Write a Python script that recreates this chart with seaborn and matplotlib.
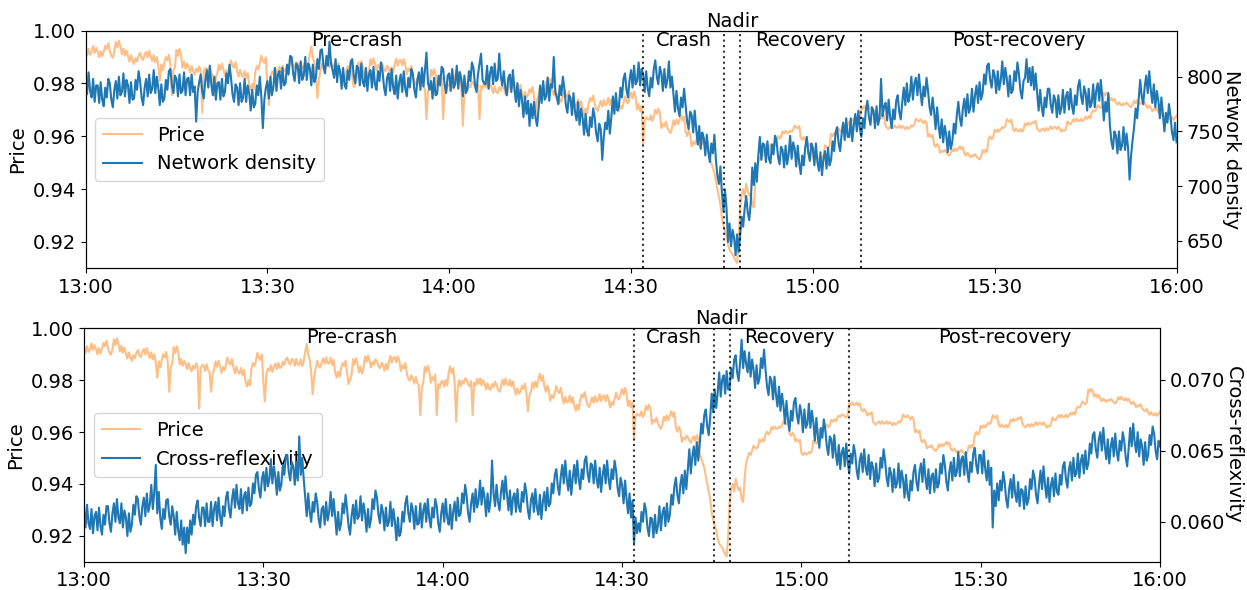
import matplotlib
matplotlib.use("Agg")
import matplotlib.pyplot as plt
import numpy as np
import pandas as pd
import seaborn as sns

# ---------------- data (15-second samples, 13:00 -> 16:00, 4 per row-minute) ----------------
times = pd.date_range("2021-01-01 13:00:00", "2021-01-01 16:00:00", freq="15s")

price = [
    0.9927, 0.9905, 0.9931, 0.9909, 0.9920, 0.9942, 0.9915, 0.9935, 0.9920, 0.9899, 0.9923, 0.9903,
    0.9921, 0.9943, 0.9931, 0.9952, 0.9925, 0.9905, 0.9898, 0.9919, 0.9958, 0.9936, 0.9962, 0.9940,
    0.9910, 0.9932, 0.9905, 0.9925, 0.9904, 0.9883, 0.9907, 0.9887, 0.9874, 0.9896, 0.9884, 0.9905,
    0.9916, 0.9896, 0.9889, 0.9910, 0.9920, 0.9898, 0.9924, 0.9902, 0.9885, 0.9907, 0.9880, 0.9900,
    0.9866, 0.9810, 0.9872, 0.9850, 0.9878, 0.9900, 0.9888, 0.9909, 0.9870, 0.9755, 0.9850, 0.9862,
    0.9927, 0.9905, 0.9931, 0.9909, 0.9860, 0.9882, 0.9855, 0.9875, 0.9863, 0.9842, 0.9866, 0.9846,
    0.9834, 0.9856, 0.9844, 0.9865, 0.9850, 0.9690, 0.9845, 0.9858, 0.9857, 0.9835, 0.9861, 0.9839,
    0.9830, 0.9755, 0.9822, 0.9840, 0.9872, 0.9851, 0.9875, 0.9855, 0.9828, 0.9850, 0.9838, 0.9859,
    0.9887, 0.9867, 0.9860, 0.9881, 0.9848, 0.9826, 0.9852, 0.9830, 0.9825, 0.9847, 0.9820, 0.9840,
    0.9796, 0.9775, 0.9799, 0.9779, 0.9844, 0.9866, 0.9854, 0.9875, 0.9905, 0.9885, 0.9878, 0.9899,
    0.9790, 0.9718, 0.9820, 0.9845, 0.9836, 0.9858, 0.9831, 0.9851, 0.9864, 0.9843, 0.9867, 0.9847,
    0.9849, 0.9871, 0.9859, 0.9880, 0.9887, 0.9867, 0.9860, 0.9881, 0.9878, 0.9856, 0.9882, 0.9860,
    0.9859, 0.9881, 0.9854, 0.9874, 0.9911, 0.9940, 0.9899, 0.9880, 0.9830, 0.9745, 0.9815, 0.9845,
    0.9875, 0.9855, 0.9848, 0.9869, 0.9884, 0.9862, 0.9888, 0.9866, 0.9864, 0.9886, 0.9859, 0.9879,
    0.9830, 0.9809, 0.9833, 0.9813, 0.9844, 0.9866, 0.9854, 0.9875, 0.9825, 0.9785, 0.9800, 0.9822,
    0.9881, 0.9859, 0.9885, 0.9863, 0.9830, 0.9852, 0.9825, 0.9845, 0.9892, 0.9871, 0.9895, 0.9875,
    0.9849, 0.9871, 0.9859, 0.9880, 0.9873, 0.9853, 0.9846, 0.9867, 0.9858, 0.9836, 0.9862, 0.9840,
    0.9872, 0.9894, 0.9867, 0.9887, 0.9889, 0.9868, 0.9892, 0.9872, 0.9835, 0.9857, 0.9845, 0.9866,
    0.9825, 0.9805, 0.9798, 0.9819, 0.9808, 0.9786, 0.9812, 0.9790, 0.9780, 0.9665, 0.9770, 0.9790,
    0.9852, 0.9831, 0.9855, 0.9835, 0.9790, 0.9812, 0.9800, 0.9821, 0.9665, 0.9785, 0.9770, 0.9795,
    0.9797, 0.9775, 0.9801, 0.9779, 0.9831, 0.9853, 0.9826, 0.9846, 0.9790, 0.9640, 0.9770, 0.9800,
    0.9776, 0.9798, 0.9786, 0.9807, 0.9803, 0.9783, 0.9776, 0.9797, 0.9665, 0.9790, 0.9780, 0.9805,
    0.9785, 0.9807, 0.9780, 0.9800, 0.9785, 0.9764, 0.9788, 0.9768, 0.9763, 0.9785, 0.9773, 0.9794,
    0.9782, 0.9762, 0.9755, 0.9776, 0.9802, 0.9780, 0.9806, 0.9784, 0.9780, 0.9802, 0.9775, 0.9795,
    0.9765, 0.9744, 0.9768, 0.9748, 0.9756, 0.9778, 0.9766, 0.9787, 0.9750, 0.9680, 0.9740, 0.9755,
    0.9791, 0.9769, 0.9795, 0.9773, 0.9802, 0.9824, 0.9797, 0.9817, 0.9776, 0.9755, 0.9779, 0.9759,
    0.9720, 0.9742, 0.9730, 0.9751, 0.9777, 0.9757, 0.9750, 0.9771, 0.9732, 0.9710, 0.9736, 0.9714,
    0.9718, 0.9740, 0.9713, 0.9733, 0.9703, 0.9682, 0.9706, 0.9686, 0.9723, 0.9745, 0.9733, 0.9754,
    0.9723, 0.9703, 0.9696, 0.9717, 0.9734, 0.9712, 0.9738, 0.9716, 0.9724, 0.9746, 0.9719, 0.9739,
    0.9740, 0.9719, 0.9743, 0.9723, 0.9694, 0.9716, 0.9704, 0.9725, 0.9752, 0.9732, 0.9725, 0.9746,
    0.9766, 0.9744, 0.9770, 0.9748, 0.9700, 0.9722, 0.9695, 0.9715, 0.9570, 0.9660, 0.9672, 0.9665,
    0.9662, 0.9680, 0.9658, 0.9674, 0.9701, 0.9685, 0.9705, 0.9689, 0.9631, 0.9647, 0.9639, 0.9655,
    0.9634, 0.9620, 0.9612, 0.9630, 0.9660, 0.9642, 0.9664, 0.9646, 0.9663, 0.9681, 0.9659, 0.9675,
    0.9617, 0.9601, 0.9621, 0.9605, 0.9562, 0.9578, 0.9570, 0.9586, 0.9580, 0.9566, 0.9558, 0.9576,
    0.9584, 0.9566, 0.9588, 0.9570, 0.9515, 0.9498, 0.9480, 0.9462, 0.9430, 0.9400, 0.9370, 0.9340,
    0.9290, 0.9262, 0.9240, 0.9222, 0.9190, 0.9170, 0.9160, 0.9155, 0.9140, 0.9128, 0.9120, 0.9200,
    0.9330, 0.9380, 0.9400, 0.9370, 0.9420, 0.9395, 0.9375, 0.9385, 0.9340, 0.9330, 0.9420, 0.9480,
    0.9500, 0.9520, 0.9512, 0.9528, 0.9547, 0.9540, 0.9536, 0.9545, 0.9571, 0.9562, 0.9573, 0.9564,
    0.9592, 0.9601, 0.9590, 0.9598, 0.9619, 0.9611, 0.9621, 0.9613, 0.9613, 0.9621, 0.9617, 0.9625,
    0.9641, 0.9634, 0.9630, 0.9639, 0.9595, 0.9586, 0.9597, 0.9588, 0.9564, 0.9573, 0.9562, 0.9570,
    0.9519, 0.9511, 0.9521, 0.9513, 0.9515, 0.9523, 0.9519, 0.9527, 0.9566, 0.9559, 0.9555, 0.9564,
    0.9610, 0.9601, 0.9612, 0.9603, 0.9620, 0.9629, 0.9618, 0.9626, 0.9647, 0.9639, 0.9649, 0.9641,
    0.9655, 0.9663, 0.9659, 0.9667, 0.9667, 0.9660, 0.9656, 0.9665, 0.9712, 0.9703, 0.9714, 0.9705,
    0.9705, 0.9714, 0.9703, 0.9711, 0.9687, 0.9679, 0.9689, 0.9681, 0.9664, 0.9672, 0.9668, 0.9676,
    0.9639, 0.9632, 0.9628, 0.9637, 0.9640, 0.9631, 0.9642, 0.9633, 0.9633, 0.9642, 0.9631, 0.9639,
    0.9634, 0.9626, 0.9636, 0.9628, 0.9633, 0.9641, 0.9637, 0.9645, 0.9667, 0.9660, 0.9656, 0.9665,
    0.9657, 0.9648, 0.9659, 0.9650, 0.9599, 0.9608, 0.9597, 0.9605, 0.9568, 0.9560, 0.9570, 0.9562,
    0.9537, 0.9545, 0.9541, 0.9549, 0.9538, 0.9531, 0.9527, 0.9536, 0.9552, 0.9543, 0.9554, 0.9545,
    0.9553, 0.9562, 0.9551, 0.9559, 0.9535, 0.9527, 0.9537, 0.9529, 0.9520, 0.9528, 0.9524, 0.9532,
    0.9523, 0.9516, 0.9512, 0.9521, 0.9548, 0.9539, 0.9550, 0.9541, 0.9591, 0.9600, 0.9589, 0.9597,
    0.9624, 0.9616, 0.9626, 0.9618, 0.9627, 0.9635, 0.9631, 0.9639, 0.9665, 0.9658, 0.9654, 0.9663,
    0.9628, 0.9619, 0.9630, 0.9621, 0.9619, 0.9628, 0.9617, 0.9625, 0.9649, 0.9641, 0.9651, 0.9643,
    0.9647, 0.9655, 0.9651, 0.9659, 0.9629, 0.9622, 0.9618, 0.9627, 0.9629, 0.9620, 0.9631, 0.9622,
    0.9629, 0.9638, 0.9627, 0.9635, 0.9635, 0.9627, 0.9637, 0.9629, 0.9617, 0.9625, 0.9621, 0.9629,
    0.9656, 0.9649, 0.9645, 0.9654, 0.9665, 0.9656, 0.9667, 0.9658, 0.9658, 0.9667, 0.9656, 0.9664,
    0.9674, 0.9666, 0.9676, 0.9668, 0.9690, 0.9698, 0.9694, 0.9702, 0.9718, 0.9711, 0.9707, 0.9716,
    0.9764, 0.9755, 0.9766, 0.9757, 0.9736, 0.9745, 0.9734, 0.9742, 0.9727, 0.9719, 0.9729, 0.9721,
    0.9716, 0.9724, 0.9720, 0.9728, 0.9721, 0.9714, 0.9710, 0.9719, 0.9734, 0.9725, 0.9736, 0.9727,
    0.9722, 0.9731, 0.9720, 0.9728, 0.9715, 0.9707, 0.9717, 0.9709, 0.9695, 0.9703, 0.9699, 0.9707,
    0.9691, 0.9684, 0.9680, 0.9689, 0.9675, 0.9666, 0.9677, 0.9668, 0.9664, 0.9673, 0.9662, 0.9670,
    0.9678,
]

network_density = [
    800, 784, 804, 787, 781, 798, 777, 792, 792, 776, 795, 779, 773, 790, 781, 798, 794, 779, 772, 788,
    796, 780, 800, 783, 786, 803, 782, 797, 792, 776, 795, 779, 780, 797, 788, 805, 796, 781, 774, 790,
    798, 782, 802, 785, 789, 806, 785, 800, 790, 774, 793, 777, 780, 797, 788, 805, 807, 792, 785, 801,
    798, 782, 802, 785, 787, 804, 783, 798, 799, 783, 802, 786, 791, 759, 786, 795, 802, 787, 780, 796,
    806, 790, 810, 793, 783, 800, 779, 794, 795, 779, 798, 782, 786, 803, 794, 811, 799, 784, 777, 793,
    790, 774, 794, 777, 781, 798, 777, 792, 785, 769, 788, 772, 775, 792, 783, 800, 782, 753, 779, 790,
    796, 780, 800, 783, 791, 808, 787, 802, 805, 789, 808, 792, 794, 811, 802, 819, 818, 803, 796, 812,
    810, 794, 814, 797, 801, 818, 797, 812, 808, 792, 811, 795, 799, 816, 807, 824, 825, 810, 803, 819,
    810, 832, 812, 806, 799, 816, 795, 810, 805, 789, 808, 792, 789, 806, 797, 814, 816, 801, 794, 810,
    808, 792, 812, 795, 791, 808, 787, 802, 806, 790, 809, 793, 788, 805, 796, 813, 805, 790, 783, 799,
    803, 787, 807, 790, 784, 801, 780, 795, 802, 786, 805, 789, 782, 799, 790, 807, 803, 788, 781, 797,
    804, 788, 808, 791, 806, 822, 794, 788, 796, 780, 799, 783, 784, 801, 792, 809, 807, 792, 785, 801,
    803, 787, 807, 790, 793, 810, 789, 804, 798, 782, 801, 785, 788, 805, 796, 813, 808, 793, 786, 802,
    812, 821, 797, 794, 793, 810, 789, 804, 809, 793, 812, 796, 798, 821, 801, 792, 805, 790, 783, 799,
    802, 786, 806, 789, 777, 794, 773, 788, 779, 763, 782, 766, 778, 755, 775, 762, 777, 762, 755, 771,
    792, 776, 796, 779, 782, 799, 778, 793, 790, 818, 786, 781, 775, 792, 783, 800, 789, 774, 767, 783,
    781, 765, 785, 768, 760, 777, 756, 771, 763, 747, 766, 750, 746, 763, 754, 771, 763, 748, 741, 757,
    752, 724, 745, 758, 752, 769, 748, 763, 782, 766, 785, 769, 773, 790, 781, 798, 803, 788, 781, 797,
    806, 790, 810, 793, 796, 813, 792, 807, 802, 786, 805, 789, 782, 799, 790, 807, 815, 800, 793, 809,
    803, 787, 807, 790, 797, 814, 790, 800, 784, 768, 787, 771, 764, 781, 772, 789, 774, 759, 752, 768,
    765, 749, 769, 752, 738, 755, 734, 749, 744, 728, 747, 731, 722, 739, 730, 747, 724, 709, 702, 718,
    693, 677, 697, 680, 649, 666, 645, 660, 653, 637, 656, 640, 655, 672, 663, 680, 691, 676, 669, 685,
    717, 701, 721, 704, 728, 745, 724, 739, 738, 722, 741, 725, 721, 738, 729, 746, 742, 727, 720, 736,
    733, 717, 737, 720, 729, 746, 725, 740, 734, 718, 737, 721, 711, 728, 719, 736, 745, 730, 723, 739,
    735, 719, 739, 722, 714, 731, 710, 725, 732, 716, 735, 719, 724, 741, 732, 749, 754, 739, 732, 748,
    758, 742, 762, 745, 745, 762, 741, 756, 766, 750, 769, 753, 745, 762, 753, 770, 778, 763, 756, 772,
    769, 753, 773, 756, 762, 798, 764, 773, 776, 760, 779, 763, 753, 770, 761, 778, 783, 768, 761, 777,
    790, 774, 794, 777, 783, 800, 779, 794, 799, 783, 802, 786, 774, 791, 782, 799, 787, 772, 765, 781,
    768, 752, 772, 755, 744, 761, 740, 755, 747, 731, 750, 734, 740, 757, 748, 765, 777, 762, 755, 771,
    780, 764, 784, 767, 772, 789, 768, 783, 792, 776, 795, 779, 785, 802, 793, 810, 812, 797, 790, 806,
    801, 785, 805, 788, 797, 814, 793, 808, 798, 782, 801, 785, 788, 805, 796, 813, 802, 787, 780, 796,
    799, 816, 795, 808, 792, 809, 788, 803, 785, 769, 788, 772, 764, 781, 772, 789, 789, 774, 767, 783,
    779, 763, 783, 766, 771, 788, 767, 782, 786, 770, 789, 773, 766, 783, 774, 791, 797, 782, 775, 791,
    785, 769, 789, 772, 776, 793, 772, 787, 794, 778, 797, 781, 760, 777, 768, 785, 756, 741, 734, 750,
    746, 730, 750, 733, 737, 754, 733, 748, 735, 706, 728, 742, 754, 771, 762, 779, 797, 782, 775, 791,
    801, 785, 805, 788, 776, 793, 772, 787, 778, 762, 781, 765, 750, 767, 758, 775, 764, 749, 742, 758,
    740,
]

cross_reflexivity = [
    0.0609, 0.0596, 0.0612, 0.0599, 0.0595, 0.0609, 0.0592, 0.0604, 0.0607, 0.0594, 0.0610, 0.0597,
    0.0591, 0.0605, 0.0598, 0.0611, 0.0611, 0.0599, 0.0593, 0.0606, 0.0613, 0.0600, 0.0616, 0.0603,
    0.0599, 0.0613, 0.0596, 0.0608, 0.0603, 0.0590, 0.0606, 0.0593, 0.0598, 0.0612, 0.0605, 0.0618,
    0.0616, 0.0604, 0.0598, 0.0611, 0.0617, 0.0604, 0.0620, 0.0607, 0.0612, 0.0626, 0.0609, 0.0621,
    0.0640, 0.0606, 0.0621, 0.0603, 0.0595, 0.0609, 0.0602, 0.0615, 0.0616, 0.0604, 0.0598, 0.0611,
    0.0604, 0.0591, 0.0607, 0.0594, 0.0587, 0.0601, 0.0584, 0.0596, 0.0578, 0.0596, 0.0585, 0.0601,
    0.0591, 0.0605, 0.0598, 0.0611, 0.0615, 0.0603, 0.0597, 0.0610, 0.0610, 0.0597, 0.0613, 0.0600,
    0.0600, 0.0614, 0.0597, 0.0609, 0.0614, 0.0601, 0.0617, 0.0604, 0.0597, 0.0611, 0.0604, 0.0617,
    0.0621, 0.0609, 0.0603, 0.0616, 0.0623, 0.0610, 0.0626, 0.0613, 0.0609, 0.0623, 0.0606, 0.0618,
    0.0621, 0.0608, 0.0624, 0.0611, 0.0613, 0.0627, 0.0620, 0.0633, 0.0635, 0.0623, 0.0617, 0.0630,
    0.0635, 0.0622, 0.0638, 0.0625, 0.0630, 0.0644, 0.0627, 0.0639, 0.0632, 0.0619, 0.0635, 0.0622,
    0.0626, 0.0640, 0.0633, 0.0646, 0.0647, 0.0635, 0.0629, 0.0642, 0.0639, 0.0626, 0.0642, 0.0629,
    0.0660, 0.0633, 0.0645, 0.0630, 0.0617, 0.0604, 0.0620, 0.0607, 0.0600, 0.0614, 0.0607, 0.0620,
    0.0614, 0.0602, 0.0596, 0.0609, 0.0611, 0.0598, 0.0614, 0.0601, 0.0607, 0.0621, 0.0604, 0.0616,
    0.0604, 0.0591, 0.0607, 0.0594, 0.0599, 0.0613, 0.0606, 0.0619, 0.0609, 0.0597, 0.0591, 0.0604,
    0.0612, 0.0599, 0.0615, 0.0602, 0.0604, 0.0618, 0.0601, 0.0613, 0.0606, 0.0593, 0.0609, 0.0596,
    0.0602, 0.0616, 0.0609, 0.0622, 0.0617, 0.0605, 0.0599, 0.0612, 0.0607, 0.0594, 0.0610, 0.0597,
    0.0600, 0.0614, 0.0597, 0.0609, 0.0600, 0.0587, 0.0603, 0.0590, 0.0593, 0.0607, 0.0600, 0.0613,
    0.0618, 0.0606, 0.0600, 0.0613, 0.0608, 0.0595, 0.0611, 0.0598, 0.0599, 0.0613, 0.0596, 0.0608,
    0.0613, 0.0600, 0.0616, 0.0603, 0.0596, 0.0610, 0.0603, 0.0616, 0.0611, 0.0599, 0.0593, 0.0606,
    0.0613, 0.0600, 0.0616, 0.0603, 0.0598, 0.0612, 0.0595, 0.0607, 0.0614, 0.0601, 0.0617, 0.0604,
    0.0606, 0.0620, 0.0613, 0.0626, 0.0618, 0.0606, 0.0600, 0.0613, 0.0620, 0.0607, 0.0623, 0.0610,
    0.0615, 0.0629, 0.0612, 0.0624, 0.0617, 0.0604, 0.0620, 0.0607, 0.0615, 0.0643, 0.0620, 0.0611,
    0.0626, 0.0614, 0.0608, 0.0621, 0.0629, 0.0616, 0.0632, 0.0619, 0.0608, 0.0622, 0.0605, 0.0617,
    0.0620, 0.0607, 0.0623, 0.0610, 0.0607, 0.0621, 0.0614, 0.0627, 0.0620, 0.0608, 0.0602, 0.0615,
    0.0620, 0.0607, 0.0623, 0.0610, 0.0605, 0.0619, 0.0602, 0.0614, 0.0621, 0.0608, 0.0624, 0.0611,
    0.0613, 0.0627, 0.0620, 0.0633, 0.0637, 0.0625, 0.0619, 0.0632, 0.0640, 0.0627, 0.0643, 0.0630,
    0.0622, 0.0636, 0.0619, 0.0631, 0.0640, 0.0627, 0.0643, 0.0630, 0.0623, 0.0637, 0.0630, 0.0643,
    0.0646, 0.0634, 0.0628, 0.0641, 0.0640, 0.0627, 0.0643, 0.0630, 0.0624, 0.0638, 0.0621, 0.0633,
    0.0640, 0.0627, 0.0643, 0.0630, 0.0623, 0.0637, 0.0630, 0.0643, 0.0636, 0.0624, 0.0618, 0.0631,
    0.0626, 0.0613, 0.0629, 0.0616, 0.0606, 0.0620, 0.0603, 0.0615, 0.0585, 0.0603, 0.0592, 0.0599,
    0.0593, 0.0607, 0.0600, 0.0613, 0.0608, 0.0596, 0.0590, 0.0603, 0.0602, 0.0589, 0.0605, 0.0592,
    0.0597, 0.0611, 0.0594, 0.0606, 0.0610, 0.0597, 0.0613, 0.0600, 0.0605, 0.0619, 0.0612, 0.0625,
    0.0631, 0.0619, 0.0613, 0.0626, 0.0633, 0.0620, 0.0636, 0.0623, 0.0637, 0.0651, 0.0634, 0.0646,
    0.0653, 0.0640, 0.0656, 0.0643, 0.0655, 0.0669, 0.0662, 0.0675, 0.0679, 0.0667, 0.0661, 0.0674,
    0.0690, 0.0677, 0.0693, 0.0680, 0.0691, 0.0705, 0.0688, 0.0700, 0.0703, 0.0690, 0.0706, 0.0693,
    0.0694, 0.0708, 0.0701, 0.0714, 0.0717, 0.0705, 0.0699, 0.0712, 0.0728, 0.0708, 0.0720, 0.0711,
    0.0705, 0.0719, 0.0702, 0.0714, 0.0707, 0.0694, 0.0710, 0.0697, 0.0701, 0.0715, 0.0708, 0.0721,
    0.0707, 0.0695, 0.0689, 0.0702, 0.0699, 0.0686, 0.0702, 0.0689, 0.0681, 0.0695, 0.0678, 0.0690,
    0.0682, 0.0669, 0.0685, 0.0672, 0.0664, 0.0678, 0.0671, 0.0684, 0.0687, 0.0675, 0.0669, 0.0682,
    0.0676, 0.0663, 0.0679, 0.0666, 0.0669, 0.0683, 0.0666, 0.0678, 0.0670, 0.0657, 0.0673, 0.0660,
    0.0652, 0.0666, 0.0659, 0.0672, 0.0665, 0.0653, 0.0647, 0.0660, 0.0658, 0.0645, 0.0661, 0.0648,
    0.0640, 0.0654, 0.0637, 0.0649, 0.0652, 0.0639, 0.0655, 0.0642, 0.0634, 0.0648, 0.0641, 0.0654,
    0.0648, 0.0636, 0.0630, 0.0643, 0.0648, 0.0635, 0.0651, 0.0638, 0.0633, 0.0647, 0.0630, 0.0642,
    0.0638, 0.0625, 0.0641, 0.0628, 0.0631, 0.0645, 0.0638, 0.0651, 0.0643, 0.0631, 0.0625, 0.0638,
    0.0634, 0.0621, 0.0637, 0.0624, 0.0627, 0.0641, 0.0624, 0.0636, 0.0630, 0.0617, 0.0633, 0.0620,
    0.0615, 0.0629, 0.0622, 0.0635, 0.0640, 0.0628, 0.0622, 0.0635, 0.0641, 0.0628, 0.0644, 0.0631,
    0.0623, 0.0637, 0.0620, 0.0632, 0.0634, 0.0621, 0.0637, 0.0624, 0.0627, 0.0641, 0.0634, 0.0647,
    0.0640, 0.0628, 0.0622, 0.0635, 0.0642, 0.0629, 0.0645, 0.0632, 0.0635, 0.0649, 0.0632, 0.0644,
    0.0646, 0.0633, 0.0649, 0.0636, 0.0628, 0.0642, 0.0635, 0.0648, 0.0652, 0.0640, 0.0634, 0.0647,
    0.0647, 0.0634, 0.0650, 0.0637, 0.0629, 0.0643, 0.0626, 0.0638, 0.0596, 0.0622, 0.0611, 0.0627,
    0.0615, 0.0629, 0.0622, 0.0635, 0.0628, 0.0616, 0.0610, 0.0623, 0.0630, 0.0617, 0.0633, 0.0620,
    0.0614, 0.0628, 0.0611, 0.0623, 0.0622, 0.0609, 0.0625, 0.0612, 0.0616, 0.0630, 0.0623, 0.0636,
    0.0631, 0.0619, 0.0613, 0.0626, 0.0636, 0.0623, 0.0639, 0.0626, 0.0617, 0.0631, 0.0614, 0.0626,
    0.0631, 0.0618, 0.0634, 0.0621, 0.0619, 0.0633, 0.0626, 0.0639, 0.0642, 0.0630, 0.0624, 0.0637,
    0.0642, 0.0629, 0.0645, 0.0632, 0.0634, 0.0648, 0.0631, 0.0643, 0.0647, 0.0634, 0.0650, 0.0637,
    0.0641, 0.0655, 0.0648, 0.0661, 0.0663, 0.0651, 0.0645, 0.0658, 0.0663, 0.0650, 0.0666, 0.0653,
    0.0644, 0.0658, 0.0641, 0.0653, 0.0659, 0.0646, 0.0662, 0.0649, 0.0643, 0.0657, 0.0650, 0.0663,
    0.0657, 0.0645, 0.0639, 0.0652, 0.0666, 0.0653, 0.0669, 0.0656, 0.0649, 0.0663, 0.0646, 0.0658,
    0.0653, 0.0640, 0.0656, 0.0643, 0.0647, 0.0661, 0.0654, 0.0667, 0.0662, 0.0650, 0.0644, 0.0657,
    0.0653,
]

# phase boundaries and phase labels
boundaries = ["14:32:00", "14:45:20", "14:48:00", "15:08:00"]
phase_labels = ["Pre-crash", "Crash", "Nadir", "Recovery", "Post-recovery"]
phase_label_times = ["13:44:45", "14:38:40", "14:46:40", "14:58:00", "15:34:00"]
phase_label_above = [False, False, True, False, False]

xtick_labels = ["13:00", "13:30", "14:00", "14:30", "15:00", "15:30", "16:00"]

DAY = "2021-01-01 "

# ---------------- figure ----------------
plt.rcParams["font.size"] = 14
fig = plt.figure(figsize=(12.47, 5.90), dpi=100)

PRICE_COLOR = "tab:orange"
BLUE = "tab:blue"


def panel(rect, series, name, ylim2, yticks2, fmt2):
    ax = fig.add_axes(rect)
    ax2 = ax.twinx()
    sns.lineplot(x=times, y=price, ax=ax, color=PRICE_COLOR, alpha=0.5,
                 linewidth=1.5, estimator=None, label="Price")
    sns.lineplot(x=times, y=series, ax=ax2, color=BLUE, linewidth=1.5,
                 estimator=None, label=name)
    for a in (ax, ax2):
        leg = a.get_legend()
        if leg is not None:
            leg.remove()

    ax.set_ylim(0.91, 1.00)
    ax.set_yticks([0.92, 0.94, 0.96, 0.98, 1.00])
    ax.set_yticklabels(["0.92", "0.94", "0.96", "0.98", "1.00"])
    ax.set_ylabel("Price")
    ax2.set_ylim(*ylim2)
    ax2.set_yticks(yticks2)
    ax2.set_yticklabels([fmt2.format(v) for v in yticks2])
    ax2.set_ylabel(name, rotation=270, va="bottom", labelpad=-1)

    xt = [pd.Timestamp(DAY + t) for t in xtick_labels]
    ax.set_xlim(times[0], times[-1])
    ax.set_xticks(xt)
    ax.set_xticklabels(xtick_labels)
    ax.set_xlabel("")
    ax2.set_xlabel("")

    for b in boundaries:
        ax2.axvline(pd.Timestamp(DAY + b), color="black", linestyle=":",
                    linewidth=1.5, alpha=0.8)

    trans = ax2.get_xaxis_transform()
    for lab, t, above in zip(phase_labels, phase_label_times, phase_label_above):
        ax2.text(pd.Timestamp(DAY + t), 1.0, lab, transform=trans,
                 ha="center", va="bottom" if above else "top", fontsize=14)

    handles = [ax.get_lines()[0], ax2.get_lines()[0]]
    ax.legend(handles, ["Price", name], loc="center left", fontsize=14)
    return ax, ax2


panel([0.0686, 0.5453, 0.8749, 0.4027], network_density, "Network density",
      (625, 842), [650, 700, 750, 800], "{:.0f}")
panel([0.0674, 0.0480, 0.8629, 0.3956], cross_reflexivity, "Cross-reflexivity",
      (0.0572, 0.0736), [0.060, 0.065, 0.070], "{:.3f}")

fig.savefig("out.png", dpi=100)
